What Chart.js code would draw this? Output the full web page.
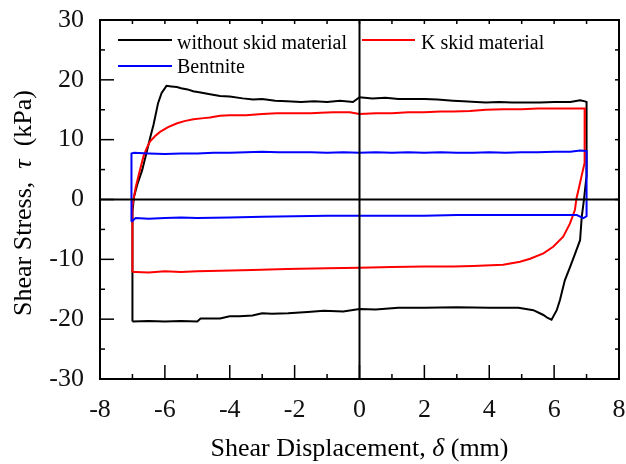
<!DOCTYPE html>
<html>
<head>
<meta charset="utf-8">
<script src="https://cdn.jsdelivr.net/npm/chart.js@4.4.1/dist/chart.umd.min.js"></script>
<style>
  body { margin: 0; background: #fff; }
  #wrap { width: 626px; height: 464px; }
</style>
</head>
<body>
<div id="wrap"><canvas id="shearChart" width="626" height="464"></canvas></div>
<script>
// cyclic shear test loops: displacement (mm) vs shear stress (kPa)
const noSkidX = [-7.0, -7.0, -7.0, -6.95, -6.85, -6.7, -6.58, -6.45, -6.35, -6.21, -6.1, -5.95, -5.8, -5.63, -5.5, -5.3, -5.13, -4.9, -4.61, -4.3, -4.0, -3.6, -3.28, -3.0, -2.6, -2.24, -1.8, -1.4, -1.0, -0.6, -0.2, 0.0, 0.4, 0.8, 1.2, 1.56, 2.0, 2.4, 2.88, 3.2, 3.6, 3.9, 4.3, 4.7, 5.1, 5.56, 6.0, 6.5, 6.8, 6.95, 7.0, 7.0, 6.92, 6.85, 6.8, 6.65, 6.49, 6.33, 6.18, 6.08, 5.92, 5.8, 5.67, 5.36, 4.9, 4.0, 3.0, 2.0, 1.2, 0.5, 0.0, -0.5, -1.1, -1.6, -2.2, -2.7, -3.0, -3.3, -3.7, -4.0, -4.3, -4.9, -5.0, -5.5, -6.0, -6.5, -7.0];
const noSkidY = [-20.4, -10, -2, 0.5, 2.5, 4.9, 7.5, 10.4, 12.5, 16.1, 17.8, 19.0, 18.9, 18.8, 18.6, 18.4, 18.1, 17.9, 17.6, 17.3, 17.2, 16.9, 16.7, 16.8, 16.5, 16.4, 16.3, 16.4, 16.3, 16.5, 16.3, 17.1, 16.9, 17.0, 16.8, 16.8, 16.8, 16.7, 16.5, 16.4, 16.3, 16.2, 16.3, 16.2, 16.2, 16.2, 16.3, 16.3, 16.6, 16.4, 16.3, 4, 0, -3, -6.8, -9, -11.3, -13.5, -16.8, -18.5, -20.1, -19.8, -19.3, -18.5, -18.1, -18.1, -18.0, -18.1, -18.1, -18.4, -18.3, -18.7, -18.6, -18.8, -19.0, -19.1, -19.0, -19.4, -19.5, -19.5, -19.9, -19.9, -20.4, -20.3, -20.4, -20.3, -20.4];

const kSkidX = [-7.0, -7.0, -7.0, -6.95, -6.9, -6.82, -6.74, -6.66, -6.56, -6.46, -6.3, -6.15, -5.9, -5.64, -5.4, -5.12, -4.8, -4.61, -4.3, -4.0, -3.5, -3.0, -2.55, -2.0, -1.5, -1.2, -0.8, -0.3, 0.0, 0.5, 1.0, 1.5, 2.0, 2.5, 2.9, 3.4, 3.9, 4.43, 5.0, 5.5, 6.0, 6.5, 6.95, 6.95, 6.93, 6.85, 6.75, 6.69, 6.64, 6.49, 6.28, 5.97, 5.67, 5.26, 4.95, 4.43, 3.5, 2.9, 2.0, 1.0, 0.0, -1.0, -2.24, -3.3, -4.3, -5.0, -5.5, -6.0, -6.5, -6.9, -7.0];
const kSkidY = [-12.1, -5, -1, 0.5, 2.0, 3.8, 5.5, 7.2, 8.6, 9.7, 10.6, 11.3, 12.1, 12.7, 13.1, 13.4, 13.6, 13.7, 14.0, 14.1, 14.1, 14.3, 14.4, 14.4, 14.4, 14.5, 14.6, 14.6, 14.3, 14.4, 14.4, 14.6, 14.6, 14.7, 14.7, 14.8, 15.0, 15.1, 15.1, 15.2, 15.2, 15.2, 15.2, 10, 6.1, 4.0, 1.6, 0.2, -1.75, -4.0, -6.2, -7.9, -9.0, -9.9, -10.4, -10.9, -11.1, -11.2, -11.2, -11.3, -11.4, -11.5, -11.6, -11.8, -11.9, -12.0, -12.1, -12.0, -12.2, -12.1, -12.1];

const bentX = [-7.03, -7.03, -7.03, -6.95, -6.5, -6.0, -5.5, -5.0, -4.5, -4.0, -3.5, -3.0, -2.5, -2.0, -1.5, -1.0, -0.5, 0.0, 0.5, 1.0, 1.5, 2.0, 2.5, 3.0, 3.5, 4.0, 4.5, 5.0, 5.5, 6.0, 6.5, 6.8, 7.0, 7.0, 7.0, 6.9, 6.7, 6.0, 5.0, 4.0, 3.0, 2.0, 1.0, 0.0, -1.0, -2.0, -3.0, -4.0, -5.0, -5.5, -6.0, -6.5, -6.9, -7.03];
const bentY = [-3.7, 2, 7.7, 7.8, 7.7, 7.6, 7.7, 7.7, 7.8, 7.8, 7.9, 8.0, 7.9, 7.9, 7.9, 7.8, 7.9, 7.8, 7.9, 7.8, 7.9, 7.8, 7.9, 7.8, 7.8, 7.9, 7.8, 7.9, 7.9, 8.0, 8.0, 8.2, 8.1, 2, -2.8, -3.1, -2.6, -2.6, -2.6, -2.6, -2.6, -2.7, -2.7, -2.7, -2.7, -2.8, -2.9, -3.0, -3.1, -3.0, -3.1, -3.2, -3.1, -3.7];

const xTicks = { min: -8, max: 8, step: 2 };
const yTicks = { min: -30, max: 30, step: 10 };

const serif = '"Liberation Serif", "Times New Roman", serif';

function toPoints(xs, ys) {
  return xs.map((x, i) => ({ x: x, y: ys[i] }));
}

function lineSeg(ctx, x1, y1, x2, y2) {
  ctx.beginPath();
  ctx.moveTo(x1, y1);
  ctx.lineTo(x2, y2);
  ctx.stroke();
}

// draws text pieces one after another, some of them in italic
function mixedText(ctx, parts, size, cx, cy) {
  let total = 0;
  parts.forEach(p => {
    ctx.font = (p.it ? 'italic ' : '') + size + 'px ' + serif;
    p.w = ctx.measureText(p.t).width;
    total += p.w;
  });
  let x = cx - total / 2;
  parts.forEach(p => {
    ctx.font = (p.it ? 'italic ' : '') + size + 'px ' + serif;
    ctx.fillText(p.t, x, cy);
    x += p.w;
  });
}

const framePlugin = {
  id: 'framePlugin',
  afterDatasetsDraw(chart) {
    const { ctx, chartArea: a, scales: { x, y } } = chart;
    ctx.save();
    ctx.strokeStyle = '#000';
    ctx.lineWidth = 2;

    // zero axes through the origin
    const x0 = x.getPixelForValue(0), y0 = y.getPixelForValue(0);
    lineSeg(ctx, x0, a.top, x0, a.bottom);
    lineSeg(ctx, a.left, y0, a.right, y0);

    ctx.strokeRect(a.left, a.top, a.width, a.height);

    // inward ticks, long on bottom/left majors, short elsewhere
    ctx.lineWidth = 1.5;
    for (let v = xTicks.min; v <= xTicks.max; v++) {
      const px = x.getPixelForValue(v);
      const len = v % 2 === 0 ? 14 : 5;
      lineSeg(ctx, px, a.bottom, px, a.bottom - len);
      lineSeg(ctx, px, a.top, px, a.top + 4);
    }
    for (let v = yTicks.min; v <= yTicks.max; v += 5) {
      const py = y.getPixelForValue(v);
      const len = v % 10 === 0 ? 14 : 5;
      lineSeg(ctx, a.left, py, a.left + len, py);
      lineSeg(ctx, a.right, py, a.right - 4, py);
    }

    // legend
    ctx.lineWidth = 2;
    ctx.fillStyle = '#000';
    ctx.font = '20px ' + serif;
    ctx.textBaseline = 'alphabetic';
    ctx.strokeStyle = '#000';
    lineSeg(ctx, 118, 40, 172, 40);
    ctx.fillText('without skid material', 177, 49);
    ctx.strokeStyle = '#ff0000';
    lineSeg(ctx, 362, 40, 415, 40);
    ctx.fillText('K skid material', 421, 49);
    ctx.strokeStyle = '#0000ff';
    lineSeg(ctx, 118, 66, 172, 66);
    ctx.fillText('Bentnite', 177, 73);

    // axis titles
    mixedText(ctx, [{ t: 'Shear Displacement, ' }, { t: 'δ', it: true }, { t: ' (mm)' }], 26, x0, 456);
    ctx.translate(31, 203);
    ctx.rotate(-Math.PI / 2);
    mixedText(ctx, [{ t: 'Shear Stress,  ' }, { t: 'τ', it: true }, { t: '  (kPa)' }], 26, 0, 0);
    ctx.restore();
  }
};

const chartCanvas = document.getElementById('shearChart');
new Chart(chartCanvas, {
  type: 'scatter',
  data: {
    datasets: [
      { label: 'without skid material', data: toPoints(noSkidX, noSkidY), borderColor: '#000000', order: 3 },
      { label: 'K skid material', data: toPoints(kSkidX, kSkidY), borderColor: '#ff0000', order: 2 },
      { label: 'Bentnite', data: toPoints(bentX, bentY), borderColor: '#0000ff', order: 1 }
    ]
  },
  options: {
    responsive: false,
    animation: false,
    showLine: true,
    elements: {
      point: { radius: 0, hoverRadius: 0 },
      line: { borderWidth: 2, tension: 0, fill: false }
    },
    layout: { padding: { top: 20, right: 7, left: 0, bottom: 0 } },
    plugins: {
      legend: { display: false },
      tooltip: { enabled: false }
    },
    scales: {
      x: {
        type: 'linear',
        min: xTicks.min,
        max: xTicks.max,
        afterFit: s => { s.height = 85; s.paddingLeft = 0; s.paddingRight = 0; },
        grid: { display: false, drawTicks: false },
        border: { display: false },
        ticks: { stepSize: xTicks.step, padding: 16, color: '#111', font: { family: serif, size: 26 } }
      },
      y: {
        type: 'linear',
        min: yTicks.min,
        max: yTicks.max,
        afterFit: s => { s.width = 100; s.paddingTop = 0; s.paddingBottom = 0; },
        grid: { display: false, drawTicks: false },
        border: { display: false },
        ticks: { stepSize: yTicks.step, padding: 16, color: '#111', font: { family: serif, size: 26 } }
      }
    }
  },
  plugins: [framePlugin]
});
</script>
</body>
</html>
